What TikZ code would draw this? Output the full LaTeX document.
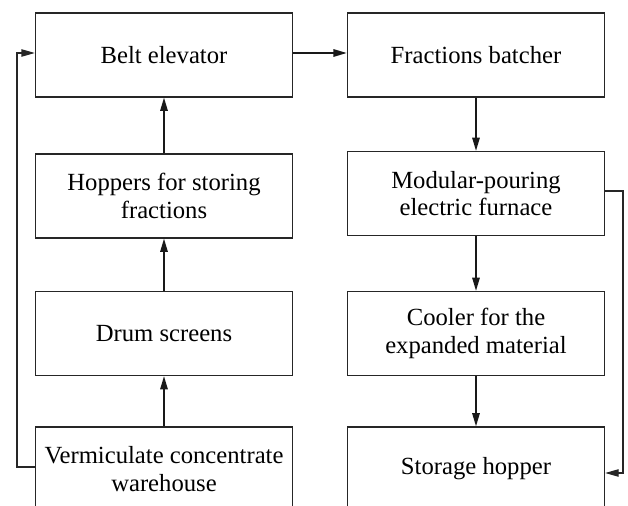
\documentclass[tikz,border=0pt]{standalone}
\usepackage{fontspec}
\setmainfont{Liberation Serif}
\usetikzlibrary{arrows.meta}
\begin{document}
\begin{tikzpicture}[x=0.75pt,y=-0.75pt,
  blk/.style={draw=black!85, line width=0.8pt, minimum width=193pt, minimum height=63pt,
    inner sep=0pt, align=center, font=\rmfamily\fontsize{18.5pt}{20.5pt}\selectfont},
  flow/.style={line width=1.4pt, draw=black!90, -{Triangle[length=10pt,width=5.5pt]}},
  fb/.style={line width=0.8pt, draw=black!85, -{Triangle[length=10pt,width=5.5pt]}}]
\useasboundingbox (0,0) rectangle (628,506);
\clip (0,0) rectangle (628,506);
\node[blk] (belt) at (164,55) {Belt elevator};
\node[blk] (hop) at (164,196) {Hoppers for storing\\fractions};
\node[blk] (drum) at (164,333.5) {Drum screens};
\node[blk] (verm) at (164,469) {Vermiculate concentrate\\warehouse};
\node[blk] (batch) at (476,55) {Fractions batcher};
\node[blk] (mod) at (476,193.5) {Modular-pouring\\electric furnace};
\node[blk] (cool) at (476,333.5) {Cooler for the\\expanded material};
\node[blk] (stor) at (476,469) {Storage hopper};
\draw[flow] (verm) -- (drum);
\draw[flow] (drum) -- (hop);
\draw[flow] (hop) -- (belt);
\draw[flow] ([yshift=1.5pt]belt.east) -- ([yshift=1.5pt]batch.west);
\draw[flow] (batch) -- (mod);
\draw[flow] (mod) -- (cool);
\draw[flow] (cool) -- (stor);
\coordinate (lA) at (17,467);
\coordinate (lB) at (17,53);
\draw[fb] ([yshift=1.5pt]verm.west) -- (lA) -- (lB) -- ([yshift=1.5pt]belt.west);
\coordinate (rA) at (623,191);
\coordinate (rB) at (623,473);
\draw[fb] ([yshift=1.875pt]mod.east) -- (rA) -- (rB) -- ([yshift=-3pt]stor.east);
\end{tikzpicture}
\end{document}
